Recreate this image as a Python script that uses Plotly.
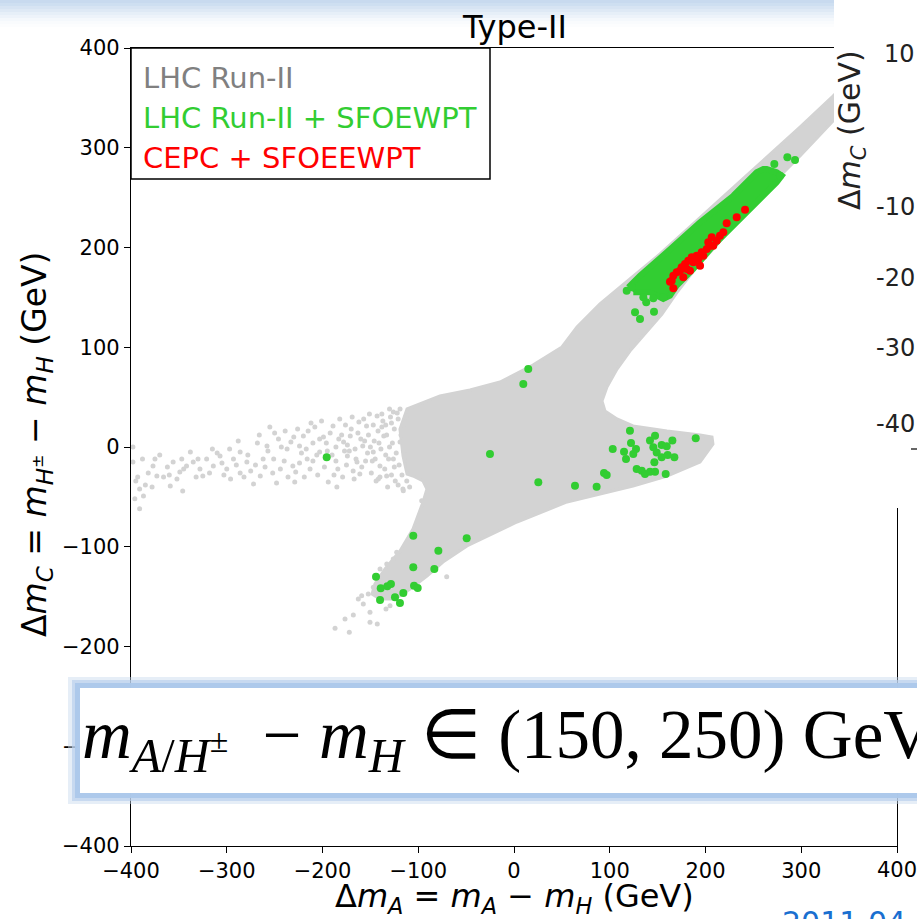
import plotly.graph_objects as go

# ---------------- data (all in GeV) ----------------
# outline of the dense LHC Run-II allowed region
lhc_region_x = [371.8, 333.2, 298.7, 270.5, 241.3, 209.9, 183.8, 152.5, 121.1, 89.8, 65.8, 50.1,
                19.8, -14.6, -46.0, -77.3, -111.7, -119.1, -115.9, -111.7, -105.5, -95.0, -90.9,
                -95.0, -105.5, -119.1, -134.7, -145.2, -148.3, -139.9, -124.3, -108.6, -90.9,
                -74.2, -49.1, 3.1, 55.4, 89.8, 124.3, 159.8, 194.3, 207.8, 206.8, 194.3, 159.8,
                124.3, 107.6, 95.0, 91.9, 97.1, 107.6, 121.1, 136.8, 154.6, 171.3, 189.0, 209.9,
                230.8, 248.6, 267.4, 298.7, 333.2, 371.8]
lhc_region_y = [389.0, 351.9, 320.8, 295.7, 270.7, 243.6, 220.6, 193.5, 168.4, 143.4, 120.3, 100.3,
                82.2, 65.2, 57.1, 51.1, 38.1, 18.0, -9.0, -27.1, -29.1, -34.1, -42.1,
                -55.1, -82.2, -104.3, -122.3, -137.3, -147.4, -152.4, -152.4, -142.4, -129.3,
                -115.3, -99.2, -75.2, -55.1, -47.1, -39.1, -29.1, -15.0, 3.0, 10.0, 12.0, 16.0,
                21.1, 28.1, 36.1, 46.1, 60.2, 78.2, 96.2, 113.3, 133.3, 156.4, 178.4, 200.5,
                223.6, 243.6, 261.7, 291.7, 326.8, 363.9]

# sparse LHC Run-II points (left tail and lower-left fringe)
lhc_sparse_x = [-398, -398, -393, -391, -387, -391, -377, -373, -378, -366, -359, -356, -347, -342,
                -349, -346, -335, -328, -321, -325, -314, -307, -300, -297, -293, -286, -279, -272,
                -265, -258, -255, -251, -244, -237, -239, -231, -229, -224, -220, -216, -213, -208,
                -203, -203, -194, -185, -189, -182, -178, -171, -174, -164, -161, -154, -158, -147,
                -143, -136, -140, -133, -126, -119, -116, -109, -126, -119,
                -150, -145, -152, -138, -130, -128, -125, -160, -166, -170, -175, -180, -186, -192,
                -198, -205, -210, -215, -222, -228, -233, -240, -246, -252, -262, -268, -275, -282,
                -290, -303, -310, -318, -332, -338, -352, -362, -370, -382, -388, -395, -134, -141,
                -147, -155, -162, -168, -177, -184, -190, -196, -201, -210, -219, -226, -248, -257,
                -270, -286, -296, -124, -132, -121, -130, -138, -117, -112, -141.7, -115.6, -96.4,
                -188, -183, -179, -176, -172, -169, -167, -163, -159, -157, -153, -151, -149, -146,
                -144, -142, -139, -137, -135, -133, -131, -129, -127, -125, -123, -122, -120, -118,
                -116, -114, -113, -111, -186, -174, -165, -156, -148, -140, -134, -128, -121, -115,
                -195, -199, -206, -212, -217, -224, -230, -236, -243, -250, -260, -266, -278, -288,
                -305, -315, -330, -345, -360, -375, -385, -396,
                -186.9, -172.0, -176.5, -167.8, -162.6, -157.4, -150.4, -150.4, -142.8, -152.2,
                -146.9, -133.7, -129.5, -136.5, -70.3, -159.1, -139.9, -132.9, -126.1, -122.5]
lhc_sparse_y = [0, -15, -30, -42, -49, -62, -19, -29, -40, -30, -39, -15, -12, -19,
                -25, -44, -15, -22, -12, -29, -19, -9, -22, -2, -12, -5, -15, -37,
                -29, 1, 20, -12, -22, -2, 16, -19, -35, 1, 11, -12, -22, 20,
                -5, 8, -35, -40, 21, 28, 5, 11, -9, -15, -27, 21, 1, -5,
                31, 11, -19, -29, -12, 5, -42, -40, 35, 38,
                0, -12, 12, 20, 0, 24, -20, 8, -2, 18, -18, 12, 0, 14,
                -20, -28, 4, 16, -6, -25, 5, -14, 8, -26, -12, 4, -24, -30,
                -18, -28, -6, -26, -30, -5, -32, -20, -8, -26, -12, -34, -8, 4,
                22, -14, 25, -24, -4, -22, -8, 4, 26, -14, -30, 18, -36, -4,
                -18, -26, -32, -34, -40, 28, 38, 33, -28, -34, -32.1, -43.8, -53.8,
                -28, 8, -30, 22, -4, 30, -32, 14, -20, 28, -6, 33, -26, 6,
                -34, 16, -2, 26, -22, 12, -12, 30, 4, 18, -6, 34, -18, 12,
                22, -10, 30, -22, -14, 2, -12, 6, -14, -30, 22, -28, -38, -4,
                -4, 10, -8, 24, -2, -16, 10, -30, 0, 14, -20, 12, -8, 6,
                -16, -2, -12, -22, -28, -12, -38, -52,
                -181.8, -185.8, -172.4, -168.4, -152.4, -157.4, -165.7, -175.7, -177.4, -147.4,
                -140.7, -162.4, -159.1, -149.1, -130.0, -149.1, -122.3, -117.3, -112.3, -105.6]

# dense core of the LHC Run-II + SFOEWPT points
sfoewpt_core_x = [119.4, 131.6, 159.5, 194.3, 229.0, 253.5, 260.4, 263.9, 274.4, 279.6, 274.4,
                  249.9, 229.0, 208.1, 187.3, 169.9, 162.9, 155.9, 142.0, 124.6]
sfoewpt_core_y = [160.1, 171.7, 195.2, 225.3, 251.9, 275.4, 278.7, 278.7, 275.4, 272.0, 265.4,
                  241.9, 221.8, 201.8, 178.4, 161.7, 151.7, 148.4, 155.1, 155.1]

# individual LHC Run-II + SFOEWPT points
sfoewpt_x = [14.9, 9.7, -195.6, -25.1, 25.4, 63.7, 86.3, 94.0, 96.8, 103.1, 121.1, 122.2, 114.9,
             117.0, 127.4, 124.6, 128.1, 133.4, 136.8, 142.0, 147.3, 142.0, 147.3, 145.5, 149.0,
             154.2, 159.5, 165.4, 154.2, 160.5, 167.5, 146.6, 158.4, 189.8,
             -105.2, -49.4, -79.0, -105.2, -83.2, -144.1, -139.2, -132.3, -128.5, -104.4, -100.6,
             -115.6, -124.3, -139.9, -119.1,
             117.7, 122.9, 135.1, 145.5, 138.1, 126.4, 131.6, 146.2, 155.9,
             285.5, 293.5, 271.9, 277.8]
sfoewpt_y = [78.2, 63.2, -10.3, -7.0, -35.4, -38.8, -39.8, -26.1, -28.1, -2.0, 16.4, 4.0, -4.7,
             -12.0, -2.0, -7.0, -22.1, -23.7, -27.1, -24.7, -24.7, 6.4, 11.4, -0.3, -5.4,
             2.0, 0.7, 6.4, -10.4, -8.0, -10.4, -15.4, -27.1, 8.7,
             -88.9, -91.6, -103.9, -120.6, -122.3, -130.0, -141.7, -139.7, -137.3, -139.0, -141.4,
             -146.4, -150.7, -153.4, -156.4,
             156.7, 160.1, 150.1, 149.1, 145.0, 135.0, 128.3, 135.6, 150.1,
             290.4, 287.7, 283.7, 272.0]

# CEPC + SFOEEWPT points
cepc_x = [241.3, 232.6, 222.1, 218.6, 215.1, 206.5, 202.9, 208.1, 201.3, 196.0, 190.8, 185.6,
          182.0, 178.6, 175.1, 173.4, 169.9, 166.4, 164.7, 162.9, 166.4, 176.8, 180.4, 187.3,
          192.5, 197.7, 204.7, 211.7, 194.3, 183.8]
cepc_y = [237.9, 230.3, 224.3, 215.2, 211.8, 210.2, 205.2, 201.8, 198.5, 195.2, 191.8, 190.2,
          186.8, 183.5, 180.2, 176.7, 175.1, 171.7, 166.7, 165.7, 159.1, 170.1, 178.4, 185.2,
          188.5, 191.8, 201.8, 206.8, 181.8, 176.7]

axis_ticks = [-400, -300, -200, -100, 0, 100, 200, 300, 400]
axis_tick_text = [str(v).replace("-", "\u2212") for v in axis_ticks]
legend_labels = ["LHC Run-II", "LHC Run-II + SFOEWPT", "CEPC + SFOEEWPT"]
inset_tick_labels = ["10", "-10", "-20", "-30", "-40"]

# ---------------- styling ----------------
GRAY, GREEN, RED = "#d3d3d3", "#32cd32", "#ff0000"
FONT = "DejaVu Sans"
W, H = 917, 919
L, R, T, B = 131, 20, 48, 73
PW, PH = W - L - R, H - T - B


def px_x(p):
    """page pixel column -> paper coordinate"""
    return (p - L) / PW


def px_y(p):
    """page pixel row -> paper coordinate"""
    return (H - B - p) / PH


fig = go.Figure()

fig.add_trace(go.Scatter(x=lhc_region_x, y=lhc_region_y, mode="lines", fill="toself",
                         fillcolor=GRAY, line=dict(color=GRAY, width=3),
                         hoverinfo="skip", showlegend=False))
fig.add_trace(go.Scatter(x=lhc_sparse_x, y=lhc_sparse_y, mode="markers",
                         marker=dict(color=GRAY, size=5), showlegend=False))
fig.add_trace(go.Scatter(x=sfoewpt_core_x, y=sfoewpt_core_y, mode="lines", fill="toself",
                         fillcolor=GREEN, line=dict(color=GREEN, width=6),
                         hoverinfo="skip", showlegend=False))
fig.add_trace(go.Scatter(x=sfoewpt_x, y=sfoewpt_y, mode="markers",
                         marker=dict(color=GREEN, size=8), showlegend=False))
fig.add_trace(go.Scatter(x=cepc_x, y=cepc_y, mode="markers",
                         marker=dict(color=RED, size=8), showlegend=False))

axis_common = dict(range=[-400, 400], tickvals=axis_ticks,
                   showgrid=False, zeroline=False, showline=True, linecolor="black",
                   linewidth=1.2, mirror=True, ticks="outside", ticklen=6, tickwidth=1.2,
                   tickcolor="black", tickfont=dict(family=FONT, size=21, color="black"))
# the right-most x label sits on the page edge, so it is placed as an annotation below
fig.update_xaxes(ticktext=axis_tick_text[:-1] + [""], **axis_common)
fig.update_yaxes(ticktext=axis_tick_text, **axis_common)

shapes = []
# slide header shadow at the very top
for i, a in enumerate([0.85, 0.75, 0.62, 0.5, 0.38, 0.27, 0.17, 0.09, 0.04]):
    shapes.append(dict(type="rect", xref="paper", yref="paper", layer="above",
                       x0=px_x(0), x1=px_x(W), y0=px_y(3 * i + 3), y1=px_y(3 * i),
                       fillcolor=f"rgba(190,212,236,{a})", line=dict(width=0)))
# legend frame
shapes.append(dict(type="rect", xref="paper", yref="paper", layer="above",
                   x0=0, x1=px_x(490), y0=px_y(179), y1=1,
                   line=dict(color="black", width=1.5), fillcolor="rgba(255,255,255,0)"))
# neighbouring panel on the right
shapes.append(dict(type="rect", xref="paper", yref="paper", layer="above",
                   x0=px_x(834), x1=px_x(W), y0=px_y(508), y1=px_y(0),
                   fillcolor="white", line=dict(width=0)))
shapes.append(dict(type="line", xref="paper", yref="paper", layer="above",
                   x0=px_x(911), x1=px_x(W), y0=px_y(449), y1=px_y(449),
                   line=dict(color="black", width=1.2)))
# highlighted formula box with a soft blue glow
for (x0, y0, y1, col) in [(68, 677, 804, "rgba(200,218,238,0.45)"),
                          (72, 680, 801, "rgba(185,208,236,0.7)"),
                          (75, 683, 798, "rgba(172,200,234,0.95)"),
                          (80, 688, 793, "white")]:
    shapes.append(dict(type="rect", xref="paper", yref="paper", layer="above",
                       x0=px_x(x0), x1=px_x(W), y0=px_y(y1), y1=px_y(y0),
                       fillcolor=col, line=dict(width=0)))

annotations = []
annotations.append(dict(text=axis_tick_text[-1], xref="x", yref="paper", x=axis_ticks[-1],
                        y=px_y(870), xanchor="center", yanchor="middle", showarrow=False,
                        font=dict(family=FONT, size=21, color="black")))
for label, color, yc in zip(legend_labels, ["#808080", GREEN, RED], [78, 118, 158]):
    annotations.append(dict(text=label, xref="paper", yref="paper", x=px_x(141), y=px_y(yc),
                            xanchor="left", yanchor="middle", showarrow=False,
                            font=dict(family=FONT, size=29, color=color)))
annotations.append(dict(text="Type-II", xref="paper", yref="paper", x=0.5, y=px_y(27),
                        xanchor="center", yanchor="middle", showarrow=False,
                        font=dict(family=FONT, size=32, color="black")))
annotations.append(dict(
    text="\u0394<i>m</i><sub><i>A</i></sub> = <i>m</i><sub><i>A</i></sub> \u2212 <i>m</i><sub><i>H</i></sub> (GeV)",
    xref="paper", yref="paper", x=px_x(514), y=px_y(898), xanchor="center", yanchor="middle",
    showarrow=False, font=dict(family=FONT, size=32, color="black")))
annotations.append(dict(
    text="\u0394<i>m</i><sub><i>C</i></sub> = <i>m</i><sub><i>H</i><sup>\u00b1</sup></sub> \u2212 <i>m</i><sub><i>H</i></sub> (GeV)",
    xref="paper", yref="paper", x=px_x(37), y=px_y(445), xanchor="center", yanchor="middle",
    textangle=-90, showarrow=False, font=dict(family=FONT, size=33, color="black")))
# formula in the highlight box
annotations.append(dict(
    text=("<i>m</i><sub><i>A</i>/<i>H</i><sup>\u00b1</sup></sub>\u2002\u2212 "
          "<i>m</i><sub><i>H</i></sub> \u2208 (150, 250) GeV"),
    xref="paper", yref="paper", x=px_x(80), y=px_y(739), xanchor="left", yanchor="middle",
    showarrow=False, font=dict(family="Liberation Serif", size=69, color="black")))
# neighbouring panel labels
annotations.append(dict(text="\u0394<i>m</i><sub><i>C</i></sub> (GeV)", xref="paper", yref="paper",
                        x=px_x(851), y=px_y(130), xanchor="center", yanchor="middle",
                        textangle=-90, showarrow=False,
                        font=dict(family=FONT, size=30, color="#222222")))
for lab, yc in zip(inset_tick_labels, [54, 207, 278, 348, 424]):
    annotations.append(dict(text=lab, xref="paper", yref="paper", x=px_x(W), y=px_y(yc),
                            xanchor="right", yanchor="middle", showarrow=False,
                            font=dict(family=FONT, size=24, color="#222222")))
annotations.append(dict(text="2011.04", xref="paper", yref="paper", x=px_x(780), y=px_y(903),
                        xanchor="left", yanchor="top", showarrow=False,
                        font=dict(family=FONT, size=30, color="#1a6fd0")))

fig.update_layout(width=W, height=H, margin=dict(l=L, r=R, t=T, b=B, pad=0),
                  paper_bgcolor="white", plot_bgcolor="white",
                  shapes=shapes, annotations=annotations, showlegend=False)

fig.write_html("out.html")
